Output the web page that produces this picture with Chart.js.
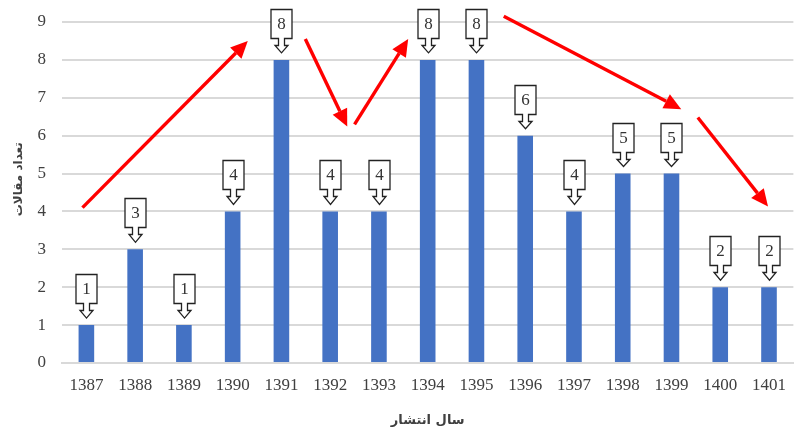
<!DOCTYPE html>
<html>
<head>
<meta charset="utf-8">
<script src="https://cdn.jsdelivr.net/npm/chart.js@4"></script>
<style>
html,body{margin:0;padding:0;background:#fff;}
#wrap{width:798px;height:430px;position:relative;}
</style>
</head>
<body>
<div id="wrap"><canvas id="c" width="798" height="430"></canvas></div>
<script>
const years = ['1387','1388','1389','1390','1391','1392','1393','1394','1395','1396','1397','1398','1399','1400','1401'];
const articleCounts = [1,3,1,4,8,4,4,8,8,6,4,5,5,2,2];
const yTicks = [0,1,2,3,4,5,6,7,8,9];
const xTitle = 'سال انتشار';
const yTitle = 'تعداد مقالات';
// trend arrows: [fromIndex, fromValue, toIndex, toValue] in data space
const trendArrows = [
  [-0.08, 4.1, 3.31, 8.5],
  [4.49, 8.55, 5.35, 6.24],
  [5.5, 6.3, 6.6, 8.55],
  [8.56, 9.15, 12.2, 6.7],
  [12.54, 6.48, 13.98, 4.13]
];

const calloutPlugin = {
  id: 'callouts',
  afterDatasetsDraw(chart) {
    const ctx = chart.ctx;
    const meta = chart.getDatasetMeta(0);
    ctx.save();
    meta.data.forEach((bar, i) => {
      const cx = Math.round(bar.x) + 0.5;
      const top = bar.y;
      const bt = Math.round(top - 51) + 0.5;
      const bb = Math.round(top - 22) + 0.5;
      const hw = 10.5;
      const sw = 3, hwid = 6.5;
      const neck = bb + 7;
      const tip = top - 7;
      ctx.beginPath();
      ctx.moveTo(cx - hw, bt);
      ctx.lineTo(cx + hw, bt);
      ctx.lineTo(cx + hw, bb);
      ctx.lineTo(cx + sw, bb);
      ctx.lineTo(cx + sw, neck);
      ctx.lineTo(cx + hwid, neck);
      ctx.lineTo(cx, tip);
      ctx.lineTo(cx - hwid, neck);
      ctx.lineTo(cx - sw, neck);
      ctx.lineTo(cx - sw, bb);
      ctx.lineTo(cx - hw, bb);
      ctx.closePath();
      ctx.fillStyle = '#fff';
      ctx.fill();
      ctx.lineWidth = 1.3;
      ctx.strokeStyle = '#222';
      ctx.stroke();
      ctx.fillStyle = '#333';
      ctx.font = '17px "Liberation Serif"';
      ctx.textAlign = 'center';
      ctx.textBaseline = 'middle';
      ctx.fillText(String(articleCounts[i]), cx, (bt + bb) / 2 + 1);
    });
    ctx.restore();
  }
};

const arrowPlugin = {
  id: 'trendArrows',
  afterDraw(chart) {
    const ctx = chart.ctx;
    const xs = chart.scales.x, ys = chart.scales.y;
    ctx.save();
    trendArrows.forEach(a => {
      const x1 = xs.getPixelForValue(a[0]);
      const y1 = ys.getPixelForValue(a[1]);
      const x2 = xs.getPixelForValue(a[2]);
      const y2 = ys.getPixelForValue(a[3]);
      const ang = Math.atan2(y2 - y1, x2 - x1);
      const hl = 17, hw = 8;
      const bx = x2 - hl * Math.cos(ang), by = y2 - hl * Math.sin(ang);
      ctx.strokeStyle = '#ff0000';
      ctx.fillStyle = '#ff0000';
      ctx.lineWidth = 3.4;
      ctx.beginPath();
      ctx.moveTo(x1, y1);
      ctx.lineTo(bx, by);
      ctx.stroke();
      ctx.beginPath();
      ctx.moveTo(x2, y2);
      ctx.lineTo(bx + hw * Math.sin(ang), by - hw * Math.cos(ang));
      ctx.lineTo(bx - hw * Math.sin(ang), by + hw * Math.cos(ang));
      ctx.closePath();
      ctx.fill();
    });
    ctx.restore();
  }
};

const yTitlePlugin = {
  id: 'yTitle',
  afterDraw(chart) {
    const ctx = chart.ctx;
    const ys = chart.scales.y;
    ctx.save();
    ctx.translate(19, ys.getPixelForValue(4.85));
    ctx.rotate(-Math.PI / 2);
    ctx.fillStyle = '#404040';
    ctx.font = 'bold 12px "DejaVu Sans"';
    ctx.textAlign = 'center';
    ctx.textBaseline = 'middle';
    ctx.fillText(yTitle, 0, 0);
    ctx.restore();
  }
};

new Chart(document.getElementById('c'), {
  type: 'bar',
  data: {
    labels: years,
    datasets: [{
      data: articleCounts,
      backgroundColor: '#4472C4',
      barPercentage: 0.64,
      categoryPercentage: 0.5
    }]
  },
  options: {
    responsive: false,
    animation: false,
    events: [],
    layout: { padding: { top: 22, right: 0, left: 0, bottom: 0 } },
    plugins: { legend: { display: false }, tooltip: { enabled: false } },
    scales: {
      x: {
        grid: { display: false, drawTicks: false },
        border: { display: true, color: '#d9d9d9', width: 2 },
        ticks: { color: '#404040', font: { family: 'Liberation Serif', size: 17 }, padding: 12, maxRotation: 0, autoSkip: false },
        title: { display: true, text: xTitle, color: '#404040', font: { family: 'DejaVu Sans', size: 13, weight: 'bold' }, padding: { top: 6, bottom: 2 } },
        afterFit(s) { s.height = 67; }
      },
      y: {
        min: 0, max: 9,
        afterBuildTicks(s) { s.ticks = yTicks.map(v => ({ value: v })); },
        grid: { color: '#d9d9d9', lineWidth: 2, drawTicks: false },
        border: { display: false },
        ticks: { color: '#404040', font: { family: 'Liberation Serif', size: 17 }, padding: 16 },
        title: { display: false, text: yTitle },
        afterFit(s) { s.width = 62; s.paddingTop = 10; s.paddingBottom = 10; }
      }
    }
  },
  plugins: [calloutPlugin, arrowPlugin, yTitlePlugin]
});
</script>
</body>
</html>
